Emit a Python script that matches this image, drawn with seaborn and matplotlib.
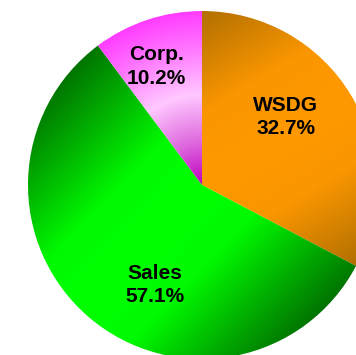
import numpy as np
import matplotlib
matplotlib.use("Agg")
import matplotlib.pyplot as plt
import seaborn as sns

# Share of total by business segment
segments = ["WSDG", "Sales", "Corp."]
shares = [32.7, 57.1, 10.2]

# Gradient colour stops per segment: (position, RGB)
wsdg_stops = [(0.0, (255, 153, 0)), (0.35, (250, 150, 0)), (1.0, (156, 100, 0))]
sales_stops = [(0.0, (0, 255, 0)), (0.33, (0, 250, 0)), (0.75, (0, 165, 0)), (1.0, (0, 116, 0))]
corp_stops = [(0.0, (190, 0, 190)), (0.25, (222, 105, 222)), (0.52, (255, 200, 255)),
              (0.8, (255, 115, 255)), (1.0, (255, 60, 255))]
gradient_stops = [wsdg_stops, sales_stops, corp_stops]
# "across": bands parallel to a direction through the centre; "radial": rings around the centre
gradient_modes = ["across", "across", "radial"]
# Band direction for "across" gradients (degrees); None = wedge bisector
band_angles = [None, 226.0, None]

# Label anchors in polar form (degrees, fraction of radius)
label_polar = [(39.0, 0.62), (244.6, 0.635), (111.0, 0.73)]

sns.set_theme(style="white")
plt.rcParams["font.family"] = ["Liberation Sans", "DejaVu Sans"]

W, H, DPI = 356, 355, 100
fig = plt.figure(figsize=(W / DPI, H / DPI), dpi=DPI)
ax = fig.add_axes([0, 0, 1, 1])

R_PX = 174.0
CX, CY = 202.0, 185.0
xlim = (-CX / R_PX, (W - CX) / R_PX)
ylim = (-(H - CY) / R_PX, CY / R_PX)

wedges, _ = ax.pie(shares, startangle=90, counterclock=False, radius=1.0,
                   colors=["none"] * len(shares),
                   wedgeprops=dict(linewidth=0))

ax.set_xlim(*xlim)
ax.set_ylim(*ylim)
ax.set_aspect("auto")
ax.axis("off")

# Pixel grid in data coordinates
nx, ny = W * 2, H * 2
xs = np.linspace(xlim[0], xlim[1], nx)
ys = np.linspace(ylim[1], ylim[0], ny)
X, Y = np.meshgrid(xs, ys)


def ramp(s, stops):
    pos = np.array([p for p, _ in stops])
    cols = np.array([c for _, c in stops], dtype=float) / 255.0
    s = np.clip(s, 0, 1)
    out = np.zeros(s.shape + (3,))
    for k in range(3):
        out[..., k] = np.interp(s, pos, cols[:, k])
    return out


for wedge, stops, mode, band in zip(wedges, gradient_stops, gradient_modes, band_angles):
    if mode == "across":
        mid = np.deg2rad(band if band is not None else (wedge.theta1 + wedge.theta2) / 2.0)
        px, py = -np.sin(mid), np.cos(mid)
        s = np.abs(X * px + Y * py)
    else:
        s = np.hypot(X, Y)
    img = ramp(s, stops)
    im = ax.imshow(img, extent=(xlim[0], xlim[1], ylim[0], ylim[1]),
                   origin="upper", interpolation="bilinear", zorder=2)
    im.set_clip_path(wedge)

ax.set_xlim(*xlim)
ax.set_ylim(*ylim)
ax.set_aspect("auto")

for name, share, (ang, dist) in zip(segments, shares, label_polar):
    a = np.deg2rad(ang)
    ax.text(dist * np.cos(a), dist * np.sin(a), f"{name}\n{share:.1f}%",
            ha="center", va="center", fontsize=15, fontweight="bold",
            color="black", linespacing=1.3, zorder=5)

fig.savefig("out.png", dpi=DPI)
